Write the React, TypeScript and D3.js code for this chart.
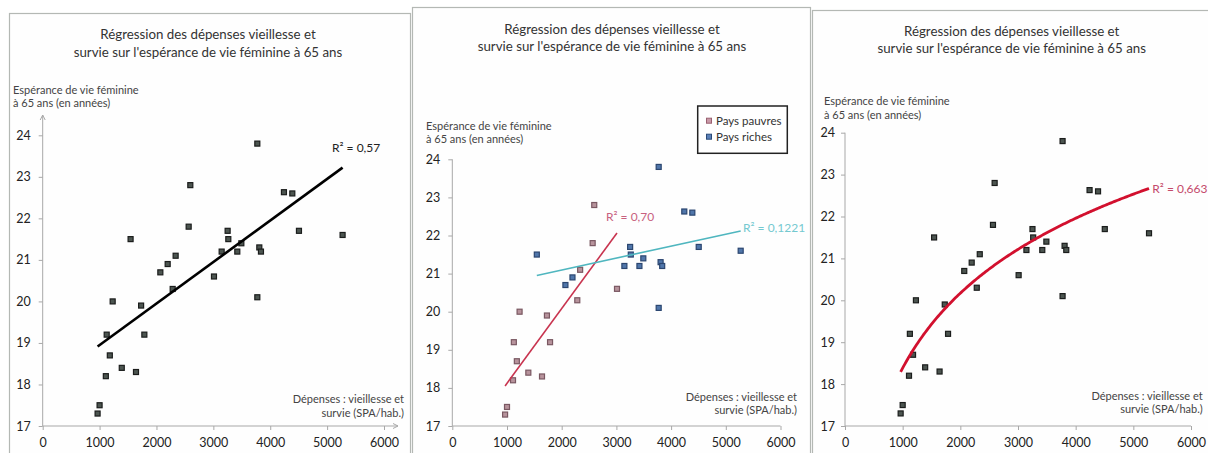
import React, { useEffect, useRef } from 'react';
import * as d3 from 'd3';

// Old-age & survival spending (SPA per inhabitant) and female life expectancy at 65
const spending = [965, 1000, 1110, 1125, 1180, 1230, 1390, 1545, 1640, 1730, 1787, 2068, 2197, 2285, 2337, 2566, 2595, 3011, 3146, 3251, 3263, 3421, 3492, 3773, 3773, 3808, 3837, 4241, 4388, 4505, 5272];
const lifeExp = [17.3, 17.5, 18.2, 19.2, 18.7, 20.0, 18.4, 21.5, 18.3, 19.9, 19.2, 20.7, 20.9, 20.3, 21.1, 21.8, 22.8, 20.6, 21.2, 21.7, 21.5, 21.2, 21.4, 23.8, 20.1, 21.3, 21.2, 22.63, 22.6, 21.7, 21.6];
// p = pays pauvres, r = pays riches
const wealth = ['p', 'p', 'p', 'p', 'p', 'p', 'p', 'r', 'p', 'p', 'p', 'r', 'r', 'p', 'p', 'p', 'p', 'p', 'r', 'r', 'r', 'r', 'r', 'r', 'r', 'r', 'r', 'r', 'r', 'r', 'r'];

const xTicks = [0, 1000, 2000, 3000, 4000, 5000, 6000];
const yTicks = [17, 18, 19, 20, 21, 22, 23, 24];

const titleLines = ['Régression des dépenses vieillesse et', "survie sur l'espérance de vie féminine à 65 ans"];
const yLabelLines = ['Espérance de vie féminine', 'à 65 ans (en années)'];
const xLabelLines = ['Dépenses : vieillesse et', 'survie (SPA/hab.)'];
const legendLabels = ['Pays pauvres', 'Pays riches'];
const r2Labels = ['R² = 0,57', 'R² = 0,70', 'R² = 0,1221', 'R² = 0,663'];

const FONT = 'Lato, "Open Sans", sans-serif';

type Pt = { x: number; y: number };
const points: (Pt & { g: string })[] = spending.map((x, i) => ({ x, y: lifeExp[i], g: wealth[i] }));

const linFit = (pts: Pt[], tx = (v: number) => v) => {
  const xs = pts.map(p => tx(p.x));
  const mx = d3.mean(xs)!;
  const my = d3.mean(pts, p => p.y)!;
  let sxy = 0, sxx = 0;
  xs.forEach((x, i) => {
    sxy += (x - mx) * (pts[i].y - my);
    sxx += (x - mx) * (x - mx);
  });
  const a = sxy / sxx;
  const b = my - a * mx;
  return (v: number) => a * tx(v) + b;
};

const App: React.FC = () => {
  const ref = useRef<SVGSVGElement>(null);

  useEffect(() => {
    if (!ref.current) return;
    const svg = d3.select(ref.current);
    svg.selectAll('*').remove();

    const panels = [
      { frame: [9, 13, 401, 470], xr: [42.7, 384], yr: [426, 135.3], yTop: 115, xEnd: 398, arrows: true, titleX: 208, titleY: [38.5, 56.5], yLab: [13, 93.5, 106.5], xLab: [404, 402.5, 416.5], pad: 8 },
      { frame: [412, 7, 398, 470], xr: [452.3, 780.5], yr: [426, 159.3], yTop: 159.3, xEnd: 780.5, arrows: false, titleX: 612, titleY: [33.5, 50.5], yLab: [426, 129.5, 142.5], xLab: [797, 400.5, 413.5], pad: 8 },
      { frame: [812, 10, 420, 470], xr: [845, 1191], yr: [426, 132.7], yTop: 132.7, xEnd: 1191, arrows: false, titleX: 1011.7, titleY: [36, 52.7], yLab: [824, 105, 119], xLab: [1202.7, 399.5, 413], pad: 6 }
    ];

    panels.forEach((p, pi) => {
      const g = svg.append('g');
      g.append('rect').attr('x', p.frame[0] + 0.5).attr('y', p.frame[1] + 0.5).attr('width', p.frame[2]).attr('height', p.frame[3])
        .attr('fill', '#fefefe').attr('stroke', '#b4b8b4').attr('stroke-width', 1.2);

      const x = d3.scaleLinear().domain([0, 6000]).range(p.xr);
      const y = d3.scaleLinear().domain([17, 24]).range(p.yr);

      // title
      titleLines.forEach((t, i) => {
        g.append('text').attr('x', p.titleX).attr('y', p.titleY[i]).attr('text-anchor', 'middle')
          .style('font-family', FONT).style('font-size', '13.3px').style('fill', '#333').text(t);
      });
      // axis labels
      yLabelLines.forEach((t, i) => {
        g.append('text').attr('x', p.yLab[0]).attr('y', p.yLab[1 + i])
          .style('font-family', FONT).style('font-size', '11px').style('fill', '#444').text(t);
      });
      xLabelLines.forEach((t, i) => {
        g.append('text').attr('x', p.xLab[0]).attr('y', p.xLab[1 + i]).attr('text-anchor', 'end')
          .style('font-family', FONT).style('font-size', '11px').style('fill', '#444').text(t);
      });

      // axes
      const axisColor = '#a8a8a8';
      const fmt = d3.format('d');
      const xAxis = g.append('g').attr('transform', `translate(0,${p.yr[0]})`)
        .call(d3.axisBottom(x).tickValues(xTicks).tickFormat(fmt).tickSize(4).tickPadding(8).tickSizeOuter(0));
      const yAxis = g.append('g').attr('transform', `translate(${p.xr[0]},0)`)
        .call(d3.axisLeft(y).tickValues(yTicks).tickFormat(fmt).tickSize(4).tickPadding(p.pad).tickSizeOuter(0));
      [xAxis, yAxis].forEach(a => {
        a.select('.domain').remove();
        a.selectAll('line').attr('stroke', axisColor);
        a.selectAll('text').style('font-family', FONT).style('font-size', '12.5px').style('fill', '#222');
      });
      g.append('line').attr('x1', p.xr[0]).attr('x2', p.xEnd).attr('y1', p.yr[0]).attr('y2', p.yr[0]).attr('stroke', axisColor);
      g.append('line').attr('x1', p.xr[0]).attr('x2', p.xr[0]).attr('y1', p.yr[0]).attr('y2', p.yTop).attr('stroke', axisColor);
      if (p.arrows) {
        g.append('path').attr('d', `M${p.xEnd - 5},${p.yr[0] - 2.5}L${p.xEnd},${p.yr[0]}L${p.xEnd - 5},${p.yr[0] + 2.5}`)
          .attr('fill', 'none').attr('stroke', axisColor);
        g.append('path').attr('d', `M${p.xr[0] - 2.5},${p.yTop + 5}L${p.xr[0]},${p.yTop}L${p.xr[0] + 2.5},${p.yTop + 5}`)
          .attr('fill', 'none').attr('stroke', axisColor);
      }

      const line = d3.line<Pt>().x(d => x(d.x)).y(d => y(d.y));
      const fitLine = (pts: Pt[], color: string, w: number, log = false) => {
        const f = log ? linFit(pts, Math.log) : linFit(pts);
        const [x0, x1] = d3.extent(pts, d => d.x) as [number, number];
        const xs = log ? d3.range(x0, x1, 25).concat([x1]) : [x0, x1];
        g.append('path').datum(xs.map(v => ({ x: v, y: f(v) }))).attr('d', line)
          .attr('fill', 'none').attr('stroke', color).attr('stroke-width', w);
        return f;
      };

      const sq = 5;
      const drawPoints = (fill: (d: { g: string }) => string, stroke: (d: { g: string }) => string) => {
        g.selectAll('rect.pt').data(points).enter().append('rect').attr('class', 'pt')
          .attr('x', d => x(d.x) - sq / 2).attr('y', d => y(d.y) - sq / 2).attr('width', sq).attr('height', sq)
          .attr('fill', fill).attr('stroke', stroke).attr('stroke-width', 1.2);
      };

      const poorFill = '#b7939c', poorStroke = '#7a5862', richFill = '#5076aa', richStroke = '#2b4670';
      const r2Text = (t: string, xx: number, yy: number, color: string) => {
        g.append('text').attr('x', xx).attr('y', yy).style('font-family', FONT).style('font-size', '12px').style('fill', color).text(t);
      };

      if (pi === 0) {
        drawPoints(() => '#4c5550', () => '#1b1d1c');
        fitLine(points, '#000', 2.6);
        r2Text(r2Labels[0], 332, 152, '#222');
      } else if (pi === 1) {
        drawPoints(d => (d.g === 'p' ? poorFill : richFill), d => (d.g === 'p' ? poorStroke : richStroke));
        fitLine(points.filter(d => d.g === 'p'), '#c8344f', 1.6);
        fitLine(points.filter(d => d.g === 'r'), '#4fb6bf', 1.6);
        r2Text(r2Labels[1], 606, 221, '#c8617f');
        r2Text(r2Labels[2], 743, 232, '#74c9d0');
        // legend
        g.append('rect').attr('x', 697.7).attr('y', 106).attr('width', 89.6).attr('height', 47.3)
          .attr('fill', '#fff').attr('stroke', '#222').attr('stroke-width', 1.5);
        legendLabels.forEach((t, i) => {
          const ly = 120.7 + i * 16;
          g.append('rect').attr('x', 709 - 2.5).attr('y', ly - 2.5).attr('width', 5).attr('height', 5)
            .attr('fill', i === 0 ? '#c99aa8' : '#5a80b8').attr('stroke', i === 0 ? '#9a6070' : '#2a4a78');
          g.append('text').attr('x', 716).attr('y', ly + 4).style('font-family', FONT).style('font-size', '11.5px')
            .style('fill', '#333').text(t);
        });
      } else {
        drawPoints(() => '#4c5550', () => '#1b1d1c');
        fitLine(points, '#d2102e', 2.8, true);
        r2Text(r2Labels[3], 1152.3, 192.5, '#c44a6a');
      }
    });
  }, []);

  return (
    <div style={{ position: 'absolute', left: 0, top: 0, background: '#fff' }}>
      <svg ref={ref} width={1208} height={453} style={{ display: 'block' }} />
    </div>
  );
};

export default App;
